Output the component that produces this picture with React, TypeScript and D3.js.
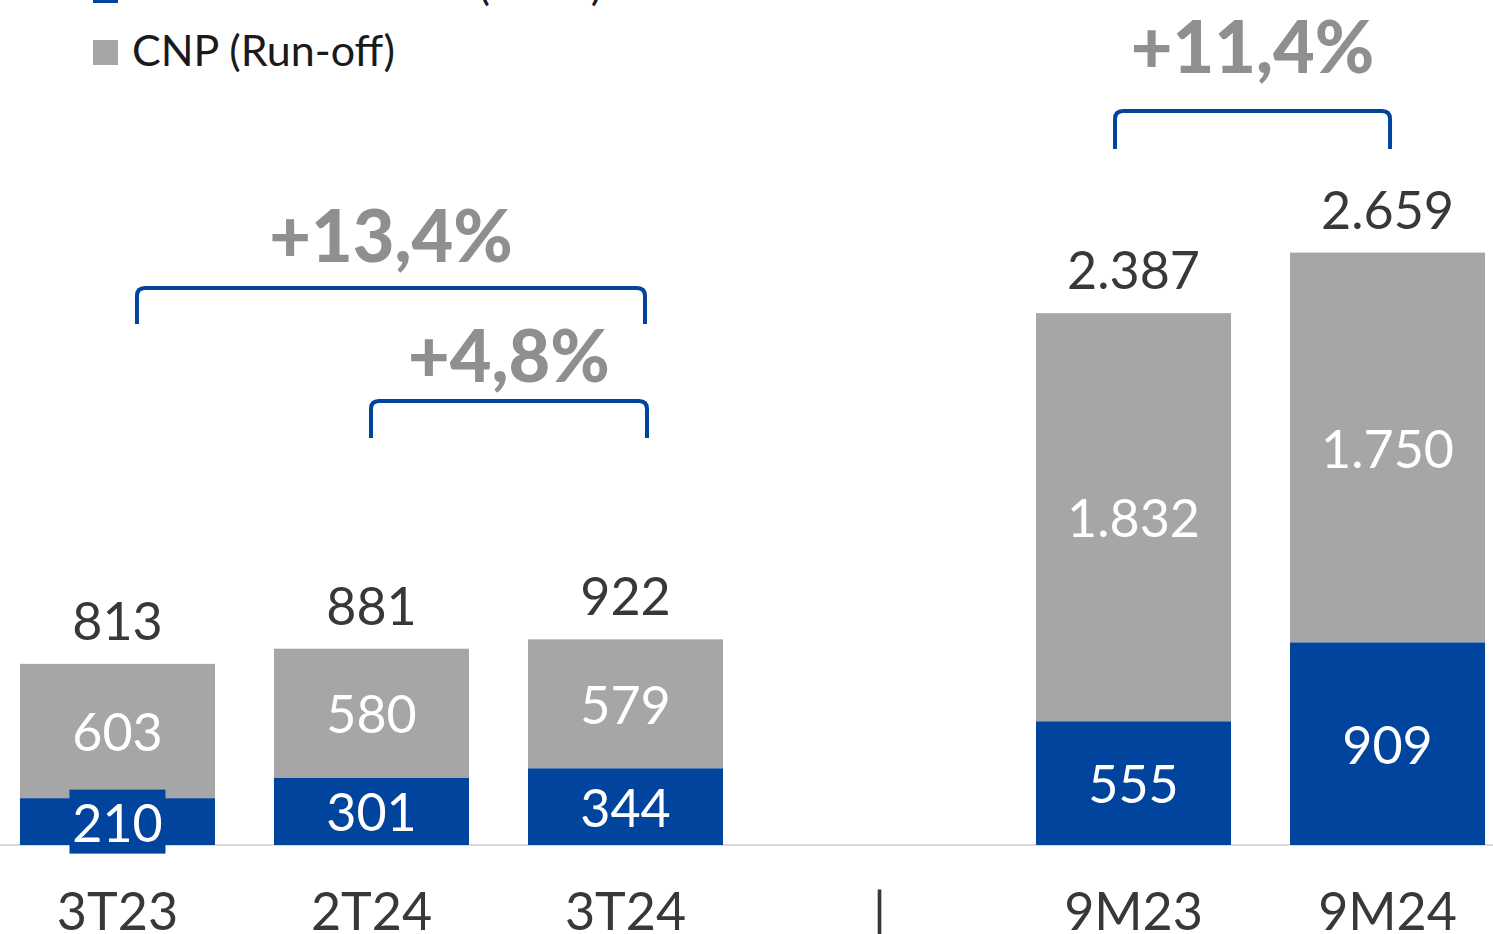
import React from "react";
import * as d3 from "d3";

const categories = ["3T23", "2T24", "3T24", "|", "9M23", "9M24"];
const novoValues: (number | null)[] = [210, 301, 344, null, 555, 909];
const runoffValues: (number | null)[] = [603, 580, 579, null, 1832, 1750];
const totalValues: (number | null)[] = [813, 881, 922, null, 2387, 2659];
const seriesNames = ["Caixa Vida e Prev. (Novo)", "CNP (Run-off)"];
const growthLabels = ["+13,4%", "+4,8%", "+11,4%"];
const growthFrom = ["3T23", "2T24", "9M23"];
const growthTo = ["3T24", "3T24", "9M24"];

const W = 1493;
const H = 934;
const BLUE = "#00449e";
const GRAY = "#a6a6a6";
const DARK = "#383838";
const PCT = "#8f8f8f";
const FONT = "Lato, 'Open Sans', sans-serif";

// layout for annotations (bracket geometry in px)
const bracketLayout = [
  { top: 288, bottom: 324, dx1: 19.5, dx2: 19.5, labelY: 262 },
  { top: 401, bottom: 438, dx1: -0.5, dx2: 21.5, labelY: 382 },
  { top: 111, bottom: 149, dx1: -18.5, dx2: 2.5, labelY: 73 },
];

const locale = d3.formatLocale({
  decimal: ",",
  thousands: ".",
  grouping: [3],
  currency: ["R$", ""],
});
const fmt = locale.format(",d");

export default function App() {
  const baseline = 845;
  const x = d3
    .scaleBand<string>()
    .domain(categories)
    .range([-9.5, 1514.5])
    .paddingInner(0.2323)
    .paddingOuter(0.116);
  const y = d3.scaleLinear().domain([0, 1000]).range([baseline, baseline - 222.8]);
  const bw = x.bandwidth();

  const bracketPath = (x1: number, x2: number, top: number, bottom: number) => {
    const r = 8;
    return `M${x1},${bottom} L${x1},${top + r} Q${x1},${top} ${x1 + r},${top} L${x2 - r},${top} Q${x2},${top} ${x2},${top + r} L${x2},${bottom}`;
  };

  return (
    <svg
      width={W}
      height={H}
      style={{ position: "fixed", left: 0, top: 0, display: "block", background: "#fff" }}
      fontFamily={FONT}
    >
      {/* Legend */}
      <g>
        <rect x={93} y={-22} width={25} height={25} fill={BLUE} />
        <text x={132} y={0} fontSize={43} fill="#1a1a1a">
          {seriesNames[0]}
        </text>
        <rect x={93} y={40} width={25} height={25} fill={GRAY} />
        <text x={132} y={66} fontSize={43} fill="#1a1a1a">
          {seriesNames[1]}
        </text>
      </g>

      {/* Axis line */}
      <line x1={0} x2={W} y1={baseline} y2={baseline} stroke="#d9d9d9" strokeWidth={2} />

      {/* Bars */}
      {categories.map((c, i) => {
        const nv = novoValues[i];
        const rv = runoffValues[i];
        const tv = totalValues[i];
        const x0 = x(c)!;
        const cx = x0 + bw / 2;
        if (nv == null || rv == null || tv == null) return null;
        const yNovoTop = y(nv);
        const yTop = y(nv + rv);
        const novoMid = (y(0) + yNovoTop) / 2;
        const runMid = (yNovoTop + yTop) / 2;
        const smallNovo = y(0) - yNovoTop < 55;
        return (
          <g key={c}>
            <rect x={x0} y={yTop} width={bw} height={yNovoTop - yTop} fill={GRAY} />
            <rect x={x0} y={yNovoTop} width={bw} height={y(0) - yNovoTop} fill={BLUE} />
            {smallNovo && (
              <rect x={cx - 48} y={novoMid - 32} width={96} height={64} fill={BLUE} />
            )}
            <text
              x={cx}
              y={runMid}
              textAnchor="middle"
              dominantBaseline="central"
              fontSize={52}
              fill="#fff"
            >
              {fmt(rv)}
            </text>
            <text
              x={cx}
              y={novoMid}
              textAnchor="middle"
              dominantBaseline="central"
              fontSize={52}
              fill="#fff"
            >
              {fmt(nv)}
            </text>
            <text
              x={cx}
              y={yTop - 44}
              textAnchor="middle"
              dominantBaseline="central"
              fontSize={52}
              fill={DARK}
            >
              {fmt(tv)}
            </text>
          </g>
        );
      })}

      {/* Category labels */}
      {categories.map((c) => (
        <text
          key={"lab" + c}
          x={x(c)! + bw / 2}
          y={910}
          textAnchor="middle"
          dominantBaseline="central"
          fontSize={52}
          fill={DARK}
        >
          {c}
        </text>
      ))}

      {/* Growth brackets */}
      {growthLabels.map((lab, i) => {
        const L = bracketLayout[i];
        const x1 = x(growthFrom[i])! + bw / 2 + L.dx1;
        const x2 = x(growthTo[i])! + bw / 2 + L.dx2;
        return (
          <g key={lab}>
            <path
              d={bracketPath(x1, x2, L.top, L.bottom)}
              fill="none"
              stroke={BLUE}
              strokeWidth={4}
            />
            <text
              x={(x1 + x2) / 2}
              y={L.labelY}
              textAnchor="middle"
              fontSize={72}
              fontWeight={900}
              fill={PCT}
            >
              {lab}
            </text>
          </g>
        );
      })}
    </svg>
  );
}
